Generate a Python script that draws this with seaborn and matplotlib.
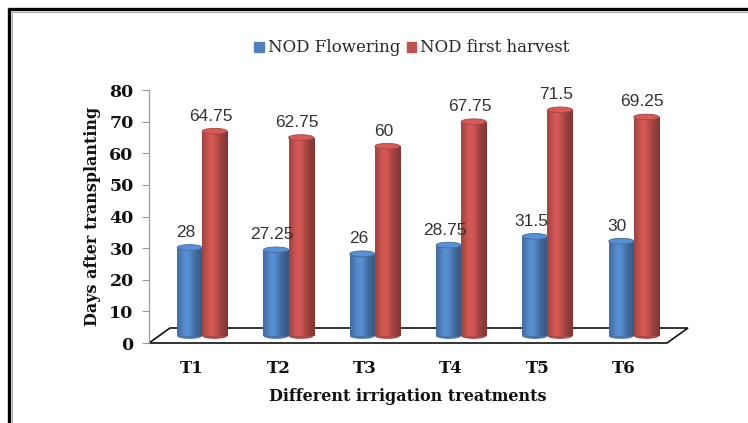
import matplotlib
matplotlib.use("Agg")
import matplotlib.pyplot as plt
import matplotlib.transforms as mtransforms
import matplotlib.colors as mcolors
from matplotlib.patches import Polygon, Ellipse
from matplotlib.lines import Line2D
import seaborn as sns
import pandas as pd
import numpy as np

# ---- data ----
treatments = ["T1", "T2", "T3", "T4", "T5", "T6"]
flowering = [28, 27.25, 26, 28.75, 31.5, 30]
first_harvest = [64.75, 62.75, 60, 67.75, 71.5, 69.25]
series_names = ["NOD Flowering", "NOD first harvest"]
flowering_labels = ["28", "27.25", "26", "28.75", "31.5", "30"]
harvest_labels = ["64.75", "62.75", "60", "67.75", "71.5", "69.25"]
y_ticks = [0, 10, 20, 30, 40, 50, 60, 70, 80]

df = pd.DataFrame({
    "treatment": treatments * 2,
    "value": flowering + first_harvest,
    "series": [series_names[0]] * len(treatments) + [series_names[1]] * len(treatments),
})

sns.set_theme(style="white")
plt.rcParams["font.family"] = ["DejaVu Serif"]

W, H = 748, 423
fig = plt.figure(figsize=(W / 100, H / 100), dpi=100)
fig.patch.set_facecolor("white")
ax = fig.add_axes([149 / W, (H - 343) / H, 518 / W, (343 - 90) / H])

palette = {series_names[0]: "#4F81BD", series_names[1]: "#C0504D"}
sns.barplot(data=df, x="treatment", y="value", hue="series", order=treatments,
            hue_order=series_names, palette=palette, width=0.58, gap=0,
            saturation=1, ax=ax, legend=False)

ax.set_xlim(-0.5, len(treatments) - 0.5)
ax.set_ylim(0, 80)

# 3D-like depth offset for bars + cylinder shading
depth = mtransforms.ScaledTranslation(10 / 100, 7 / 100, fig.dpi_scale_trans)
tr = ax.transData + depth
cap_h = 1.8  # ellipse height in data units (~6 px)
t = np.linspace(0, 1, 60)
profile = 0.80 + 0.32 * np.exp(-((t - 0.38) / 0.28) ** 2) - 0.12 * t ** 3
for p in list(ax.patches):
    p.set_transform(tr)
    p.set_edgecolor("none")
    base = np.array(mcolors.to_rgb(p.get_facecolor()))
    x, w, h = p.get_x(), p.get_width(), p.get_height()
    cx = x + w / 2
    grad = np.clip(base[None, None, :] * profile[None, :, None], 0, 1)
    # bottom rounded end
    bot = Ellipse((cx, 0), w, cap_h, transform=tr, facecolor=base * 0.9,
                  edgecolor="none", zorder=1.9)
    ax.add_patch(bot)
    im = ax.imshow(grad, extent=(x, x + w, 0, h), aspect="auto", transform=tr,
                   zorder=2.1, interpolation="bilinear")
    im.set_clip_path(p)
    cap = Ellipse((cx, h), w, cap_h, transform=tr,
                  facecolor=np.clip(base * 1.12, 0, 1), edgecolor=base * 0.85,
                  linewidth=0.6, zorder=2.3)
    ax.add_patch(cap)

# data labels
lab_off = mtransforms.ScaledTranslation(6 / 100, 22 / 100, fig.dpi_scale_trans)
for container, labels in zip(ax.containers, [flowering_labels, harvest_labels]):
    for bar, lab in zip(container, labels):
        cx = bar.get_x() + bar.get_width() / 2
        ax.text(cx, bar.get_height(), lab, transform=ax.transData + lab_off,
                ha="center", va="center", fontsize=12.5, color="#333333",
                family=["Liberation Sans", "DejaVu Sans"])

ax.set_xlim(-0.5, len(treatments) - 0.5)
ax.set_ylim(0, 80)
ax.set_yticks(y_ticks)
ax.set_yticklabels([str(v) for v in y_ticks], fontsize=12.5, fontweight="bold")
ax.set_xticks(range(len(treatments)))
ax.set_xticklabels(treatments, fontsize=12, fontweight="bold")
ax.set_xticks([i - 0.5 for i in range(len(treatments) + 1)], minor=True)
ax.tick_params(axis="x", which="major", length=0, pad=12)
ax.tick_params(axis="x", which="minor", length=5, width=0.8, color="#9a9a9a", direction="out")
ax.tick_params(axis="y", which="major", length=5, width=0.8, color="#9a9a9a",
               direction="out", pad=6, left=True)
for lab in ax.get_xticklabels() + ax.get_yticklabels():
    lab.set_color("#111111")

for s in ["top", "right", "bottom"]:
    ax.spines[s].set_visible(False)
ax.spines["left"].set_color("#9a9a9a")
ax.spines["left"].set_linewidth(0.9)
ax.grid(False)

ax.set_xlabel("Different irrigation treatments", fontsize=11.5, fontweight="bold",
              labelpad=8, color="#111111")
ax.set_ylabel("Days after transplanting", fontsize=11.5, fontweight="bold",
              labelpad=6, color="#111111")

# 3D floor outline
dx, dy = 21 / 518, 15 / 253
floor = Polygon([(0, 0), (1, 0), (1 + dx, dy), (dx, dy)], closed=True,
                transform=ax.transAxes, facecolor="none", edgecolor="#111111",
                linewidth=1.2, clip_on=False, zorder=0.5)
ax.add_patch(floor)

# legend
handles = [plt.Rectangle((0, 0), 1, 1, color=palette[n]) for n in series_names]
fig.legend(handles, series_names, loc="center", bbox_to_anchor=(412 / W, 1 - 48 / H),
           ncol=2, frameon=False, fontsize=12, handlelength=0.55, handleheight=0.55,
           handletextpad=0.25, columnspacing=0.4)

# outer frame (left and top edges visible)
fig.add_artist(Line2D([9 / W, 9 / W], [0, 1 - 8 / H], transform=fig.transFigure,
                      color="black", linewidth=2.4, solid_capstyle="butt"))
fig.add_artist(Line2D([8 / W, 1], [1 - 9 / H, 1 - 9 / H], transform=fig.transFigure,
                      color="black", linewidth=2.4, solid_capstyle="butt"))
fig.add_artist(Line2D([12 / W, 12 / W], [0, 1 - 12 / H], transform=fig.transFigure,
                      color="#b0b0b0", linewidth=0.8, solid_capstyle="butt"))
fig.add_artist(Line2D([12 / W, 1], [1 - 12 / H, 1 - 12 / H], transform=fig.transFigure,
                      color="#b0b0b0", linewidth=0.8, solid_capstyle="butt"))

fig.savefig("out.png", dpi=100, facecolor="white")
